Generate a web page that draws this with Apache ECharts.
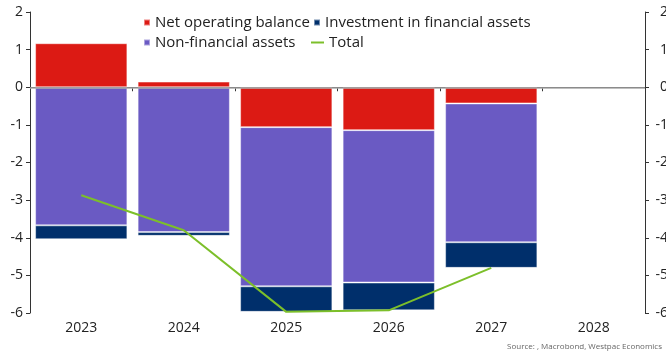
<!DOCTYPE html>
<html>
<head>
<meta charset="utf-8">
<script src="https://cdn.jsdelivr.net/npm/echarts@6/dist/echarts.min.js"></script>
<style>
  html, body { margin: 0; padding: 0; background: #fff; }
  #chart { width: 666px; height: 353px; }
</style>
</head>
<body>
<div id="chart"></div>
<script>
// Fiscal balance components, % of GDP
const years = ['2023', '2024', '2025', '2026', '2027', '2028'];
const netOperatingBalance = [1.17, 0.15, -1.06, -1.14, -0.43, null];
const nonFinancialAssets = [-3.67, -3.85, -4.23, -4.05, -3.69, null];
const investmentFinancial = [-0.37, -0.10, -0.68, -0.74, -0.68, null];
const total = [-2.87, -3.80, -5.97, -5.93, -4.80, null];
const yTicks = { min: -6, max: 2, step: 1 };

const FONT = 'Open Sans';
const chart = echarts.init(document.getElementById('chart'), null, { renderer: 'canvas' });

const barBorder = { borderColor: 'rgba(255,255,255,0.45)', borderWidth: 1 };

function yAxis(pos) {
  return {
    type: 'value',
    position: pos,
    min: yTicks.min,
    max: yTicks.max,
    interval: yTicks.step,
    axisLine: { show: true, lineStyle: { color: '#333', width: 1 } },
    axisTick: { show: true, length: 4, inside: false, lineStyle: { color: '#333' } },
    splitLine: { show: false },
    axisLabel: {
      color: '#222',
      fontFamily: FONT,
      fontSize: 14,
      align: 'right',
      margin: pos === 'left' ? 7 : 23
    }
  };
}

function legendItem(name, left, top, icon, w, h) {
  return {
    data: [name],
    left: left,
    top: top,
    icon: icon,
    itemWidth: w,
    itemHeight: h,
    padding: 0,
    textStyle: { fontFamily: FONT, fontSize: 15, color: '#222' }
  };
}

chart.setOption({
  animation: false,
  backgroundColor: '#fff',
  grid: { left: 30, right: 21, top: 12, bottom: 40, show: false, outerBoundsMode: 'none' },
  legend: [
    legendItem('Net operating balance', 143, 15, 'rect', 6, 6),
    legendItem('Investment in financial assets', 313, 15, 'rect', 6, 6),
    legendItem('Non-financial assets', 143, 35, 'rect', 6, 6),
    legendItem('Total', 311, 35, 'rect', 13, 2)
  ],
  xAxis: [{
    type: 'category',
    data: years,
    axisLine: { show: true, lineStyle: { color: '#333' } },
    axisTick: { show: true, length: 4, lineStyle: { color: '#333' } },
    axisLabel: { color: '#222', fontFamily: FONT, fontSize: 14, margin: 8 }
  }, {
    type: 'category',
    data: years,
    position: 'top',
    axisLine: { show: true, lineStyle: { color: '#333' } },
    axisTick: { show: false },
    axisLabel: { show: false }
  }],
  yAxis: [yAxis('left'), yAxis('right')],
  series: [
    {
      name: 'Net operating balance', type: 'bar', stack: 'bal',
      data: netOperatingBalance, barCategoryGap: '10%',
      itemStyle: Object.assign({ color: '#dc1a14' }, barBorder)
    },
    {
      name: 'Non-financial assets', type: 'bar', stack: 'bal',
      data: nonFinancialAssets,
      itemStyle: Object.assign({ color: '#6a5ac3' }, barBorder)
    },
    {
      name: 'Investment in financial assets', type: 'bar', stack: 'bal',
      data: investmentFinancial,
      itemStyle: Object.assign({ color: '#002f6b' }, barBorder)
    },
    {
      name: 'Total', type: 'line', data: total,
      symbol: 'none', z: 5,
      lineStyle: { color: '#7cbf2a', width: 2 },
      itemStyle: { color: '#7cbf2a' },
      // zero reference line, drawn over the bars
      markLine: {
        silent: true, symbol: 'none', label: { show: false },
        lineStyle: { color: '#aaaaaa', width: 1.7, type: 'solid' },
        data: [{ yAxis: 0 }]
      }
    }
  ],
  graphic: [{
    type: 'text',
    right: 4,
    bottom: 2,
    style: {
      text: 'Source: , Macrobond, Westpac Economics',
      fill: '#666',
      font: '8px "Open Sans"'
    }
  }]
});
</script>
</body>
</html>
